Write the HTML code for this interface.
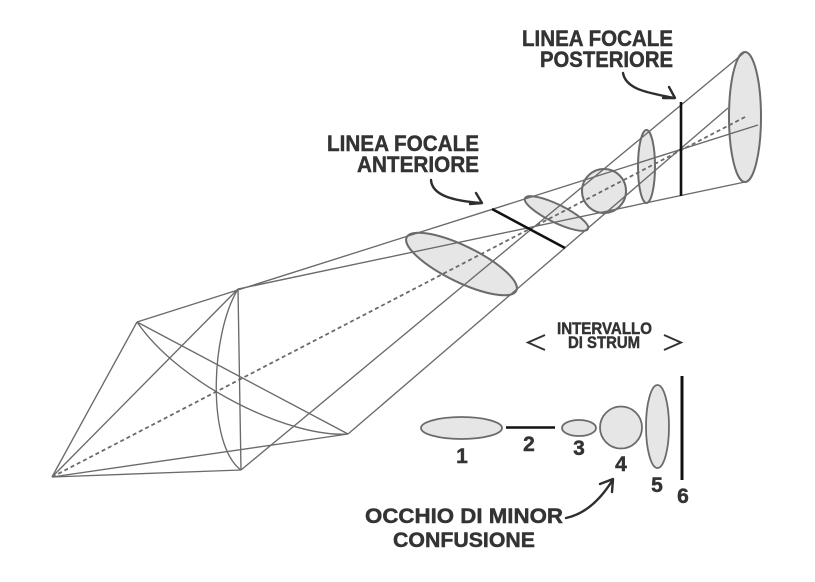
<!DOCTYPE html>
<html><head><meta charset="utf-8"><style>
html,body{margin:0;padding:0;background:#fff;}
svg{display:block;}
text{font-family:"Liberation Sans",sans-serif;font-weight:bold;fill:#333;stroke:#333;stroke-width:0.45px;}
</style></head><body>
<svg width="815" height="582" viewBox="0 0 815 582" xmlns="http://www.w3.org/2000/svg">
<rect width="815" height="582" fill="#fff"/>
<g fill="#e6e6e6" stroke="#6b6b6b" stroke-width="2">
<ellipse cx="461.5" cy="264" rx="61" ry="18" transform="rotate(26 461.5 264)"/>
<ellipse cx="556.5" cy="213.5" rx="35" ry="9" transform="rotate(26 556.5 213.5)"/>
<circle cx="604" cy="191" r="22"/>
<ellipse cx="646.5" cy="166.5" rx="8.5" ry="36.5"/>
<ellipse cx="745" cy="117" rx="16" ry="65"/>
</g>
<g fill="none" stroke="#6a6a6a" stroke-width="1.35">
<line x1="52" y1="477" x2="137" y2="322"/>
<line x1="52" y1="477" x2="238" y2="289"/>
<line x1="52" y1="477" x2="241" y2="470"/>
<line x1="52" y1="477" x2="348" y2="434"/>
<line x1="238" y1="289" x2="241" y2="470"/>
<line x1="137" y1="322" x2="348" y2="434"/>
<path d="M238 289 C210 335 207 445 241 470"/>
<path d="M137 322 C180 385 290 438 348 434"/>
<line x1="137" y1="322" x2="758" y2="125"/>
<line x1="348" y1="434" x2="728" y2="108"/>
<line x1="238" y1="289" x2="745" y2="182"/>
<line x1="241" y1="470" x2="745" y2="52"/>
</g>
<line x1="52" y1="477" x2="745" y2="117" stroke="#6a6a6a" stroke-width="1.8" stroke-dasharray="4 3"/>
<line x1="492" y1="209" x2="565" y2="248" stroke="#111" stroke-width="2.6"/>
<line x1="681" y1="102" x2="681" y2="196" stroke="#111" stroke-width="2.6"/>
<text x="522" y="46" font-size="22" textLength="151" lengthAdjust="spacingAndGlyphs">LINEA FOCALE</text>
<text x="540" y="67" font-size="22" textLength="133" lengthAdjust="spacingAndGlyphs">POSTERIORE</text>
<text x="327" y="151" font-size="22" textLength="152" lengthAdjust="spacingAndGlyphs">LINEA FOCALE</text>
<text x="357" y="172" font-size="22" textLength="122" lengthAdjust="spacingAndGlyphs">ANTERIORE</text>
<g fill="none" stroke="#2e2e2e" stroke-width="2.4" stroke-linecap="round" stroke-linejoin="round">
<path d="M431 180 C432 196 455 201 481 203"/>
<polyline points="476,193 482,203 470,204"/>
<path d="M623 73 C626 90 650 93 674 98"/>
<polyline points="669,87 675,98 663,98"/>
<path d="M566 518 C585 514 600 500 612 481"/>
<polyline points="600,484 613,479 612,492"/>
</g>
<text x="557" y="334" font-size="16.5" textLength="95" lengthAdjust="spacingAndGlyphs">INTERVALLO</text>
<text x="568" y="348" font-size="16.5" textLength="72" lengthAdjust="spacingAndGlyphs">DI STRUM</text>
<g fill="none" stroke="#333" stroke-width="2">
<polyline points="545,335 528,342.5 545,350"/>
<polyline points="664,335 681,342.5 664,350"/>
</g>
<g fill="#e6e6e6" stroke="#6b6b6b" stroke-width="1.8">
<ellipse cx="461.5" cy="428" rx="40.5" ry="11"/>
<ellipse cx="579" cy="428" rx="17" ry="8"/>
<circle cx="621" cy="427.5" r="21"/>
<ellipse cx="657.5" cy="426.5" rx="11.5" ry="41.5"/>
</g>
<line x1="506" y1="427.5" x2="555" y2="427.5" stroke="#111" stroke-width="2.6"/>
<line x1="682" y1="376" x2="682" y2="480" stroke="#111" stroke-width="3"/>
<g font-size="21" text-anchor="middle">
<text x="462" y="463">1</text>
<text x="529" y="451">2</text>
<text x="579" y="455">3</text>
<text x="621" y="471">4</text>
<text x="657" y="492">5</text>
<text x="683" y="503">6</text>
</g>
<text x="365" y="523" font-size="21" textLength="198" lengthAdjust="spacingAndGlyphs">OCCHIO DI MINOR</text>
<text x="393" y="547" font-size="21" textLength="142" lengthAdjust="spacingAndGlyphs">CONFUSIONE</text>
</svg>
</body></html>
